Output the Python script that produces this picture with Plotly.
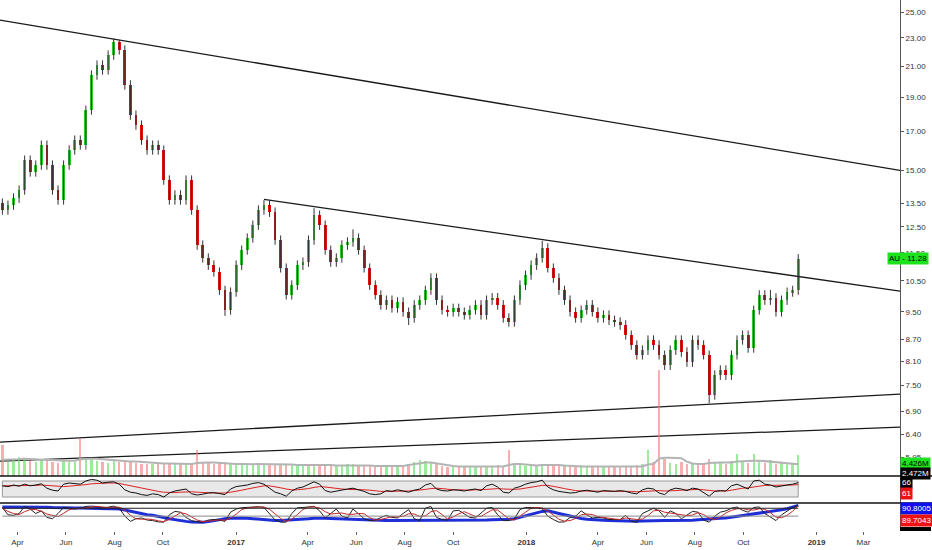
import math
import pandas as pd
import plotly.graph_objects as go

# ---------------- data (weekly bars) ----------------
bar_dates = pd.date_range('2016-03-13', periods=144, freq='7D')

open_ = [13.50,13.20,13.41,13.72,14.08,15.51,14.92,15.26,16.28,15.26,
         14.08,13.63,15.26,16.02,16.54,16.28,18.22,20.40,21.07,20.74,
         21.76,22.70,22.12,19.76,17.93,17.36,16.54,16.02,16.28,16.02,
         14.54,13.63,13.86,13.63,14.54,13.20,11.79,11.31,11.05,10.81,
         10.19,9.56,10.13,11.05,11.60,12.06,12.57,13.20,13.41,13.11,
         11.98,10.95,10.04,10.36,11.05,11.16,11.98,12.99,12.57,11.60,
         11.16,11.31,11.79,11.91,12.06,11.60,10.95,10.36,10.04,9.72,
         9.87,9.62,9.81,9.50,9.32,9.72,9.87,10.19,10.60,9.87,
         9.56,9.50,9.62,9.50,9.41,9.56,9.72,9.41,9.87,9.95,
         9.72,9.32,9.20,9.87,10.36,10.70,11.05,11.31,11.68,10.95,
         10.60,10.19,9.87,9.50,9.32,9.56,9.72,9.50,9.32,9.41,
         9.25,9.20,9.11,8.82,8.54,8.27,8.40,8.68,8.54,8.27,
         8.00,8.40,8.68,8.35,8.08,8.68,8.54,8.27,7.27,7.75,
         7.88,7.75,8.27,8.68,8.82,8.46,9.56,10.04,9.87,9.94,
         9.50,9.87,10.13,10.19]
close = [13.20,13.41,13.72,14.08,15.51,14.92,15.26,16.28,15.26,14.08,
         13.63,15.26,16.02,16.54,16.28,18.22,20.40,21.07,20.74,21.76,
         22.70,22.12,19.76,17.93,17.36,16.54,16.02,16.28,16.02,14.54,
         13.63,13.86,13.63,14.54,13.20,11.79,11.31,11.05,10.81,10.19,
         9.56,10.13,11.05,11.60,12.06,12.57,13.20,13.41,13.11,11.98,
         10.95,10.04,10.36,11.05,11.16,11.98,12.99,12.57,11.60,11.16,
         11.31,11.79,11.91,12.06,11.60,10.95,10.36,10.04,9.72,9.87,
         9.62,9.81,9.50,9.32,9.72,9.87,10.19,10.60,9.87,9.56,
         9.50,9.62,9.50,9.41,9.56,9.72,9.41,9.87,9.95,9.72,
         9.32,9.20,9.87,10.36,10.70,11.05,11.31,11.68,10.95,10.60,
         10.19,9.87,9.50,9.32,9.56,9.72,9.50,9.32,9.41,9.25,
         9.20,9.11,8.82,8.54,8.27,8.40,8.68,8.54,8.27,8.00,
         8.40,8.68,8.35,8.08,8.68,8.54,8.27,7.27,7.75,7.88,
         7.75,8.27,8.68,8.82,8.46,9.56,10.04,9.87,9.94,9.50,
         9.87,10.13,10.19,11.28]
high = [13.70,13.61,13.93,14.29,15.74,15.74,15.49,16.52,16.52,15.49,
        14.29,15.49,16.26,16.79,16.79,18.49,20.71,21.39,21.39,22.09,
        22.95,22.85,22.45,20.06,18.20,17.62,16.79,16.52,16.52,16.26,
        14.76,14.07,14.07,14.76,14.76,13.40,11.97,11.48,11.22,10.97,
        10.34,10.28,11.22,11.77,12.24,12.76,13.40,13.63,13.61,13.31,
        12.16,11.11,10.52,11.22,11.33,12.16,13.28,13.18,12.76,11.77,
        11.48,11.97,12.09,12.40,12.24,11.77,11.11,10.52,10.19,10.02,
        10.02,9.96,9.96,9.64,9.87,10.02,10.34,10.76,10.76,10.02,
        9.70,9.76,9.76,9.64,9.70,9.87,9.87,10.02,10.10,10.10,
        9.87,9.46,10.02,10.52,10.86,11.22,11.48,11.95,11.86,11.11,
        10.76,10.34,10.02,9.64,9.70,9.87,9.87,9.64,9.55,9.55,
        9.39,9.34,9.25,8.95,8.67,8.53,8.81,8.81,8.67,8.39,
        8.53,8.81,8.81,8.48,8.81,8.81,8.67,8.39,7.87,8.00,
        8.00,8.39,8.81,8.95,8.95,9.70,10.19,10.19,10.20,10.09,
        10.02,10.28,10.34,11.45]
low = [13.00,13.00,13.21,13.51,13.87,14.70,14.70,15.03,15.03,13.87,
       13.43,13.43,15.03,15.78,16.04,16.04,17.95,20.09,20.43,20.43,
       21.43,21.79,19.46,17.66,17.10,16.29,15.78,15.78,15.78,14.32,
       13.43,13.43,13.43,13.43,13.00,11.61,11.14,10.88,10.65,10.04,
       9.38,9.42,9.98,10.88,11.43,11.88,12.38,13.00,12.91,11.80,
       10.79,9.89,9.89,10.20,10.88,10.99,11.80,12.38,11.43,10.99,
       10.99,11.14,11.61,11.73,11.43,10.79,10.20,9.89,9.57,9.57,
       9.48,9.48,9.36,9.11,9.18,9.57,9.72,10.04,9.72,9.42,
       9.36,9.36,9.36,9.27,9.27,9.42,9.27,9.27,9.72,9.57,
       9.18,9.06,9.06,9.72,10.20,10.54,10.88,11.14,10.79,10.44,
       10.04,9.72,9.36,9.18,9.18,9.42,9.36,9.18,9.18,9.11,
       9.06,8.97,8.69,8.41,8.15,8.15,8.27,8.41,8.15,7.88,
       7.88,8.27,8.22,7.96,7.96,8.41,8.15,7.08,7.16,7.63,
       7.63,7.63,8.15,8.55,8.33,8.33,9.42,9.72,9.72,9.36,
       9.36,9.72,9.98,10.04]
volume = [6.5,3.0,3.5,4.0,3.8,3.2,3.0,3.6,3.4,3.0,
          2.8,3.2,3.0,2.9,8.0,3.4,3.6,3.2,3.0,2.8,
          3.3,3.0,3.4,3.2,2.8,2.6,2.5,2.4,2.6,2.8,
          2.7,2.6,2.5,2.4,2.6,5.5,3.0,2.8,2.6,2.7,
          2.9,2.5,2.4,2.6,2.5,2.3,2.4,2.6,2.3,2.5,
          2.2,2.6,2.4,2.2,2.3,2.5,2.4,2.6,2.2,2.0,
          2.1,2.3,2.6,2.5,2.2,2.1,2.0,2.2,2.1,2.0,
          2.3,2.1,2.0,2.6,3.0,3.4,3.2,2.8,2.4,2.0,
          1.9,2.1,2.0,1.8,1.9,2.0,2.1,1.9,2.0,2.2,
          2.1,5.5,2.4,2.2,2.1,2.0,2.3,2.5,2.4,2.6,
          2.2,2.1,2.0,1.9,2.2,2.0,1.9,2.0,1.8,2.0,
          1.9,2.1,2.0,1.9,2.2,2.4,5.5,3.0,22.0,3.5,
          2.8,2.6,3.0,2.6,2.4,2.5,2.8,3.6,3.0,2.8,
          2.6,3.2,4.5,3.0,2.8,4.5,3.2,2.8,3.4,2.6,
          2.8,2.5,2.7,4.426]
vol_ma = [3.4,3.4,3.5,3.5,3.6,3.6,3.5,3.4,3.4,3.3,
          3.3,3.2,3.2,3.2,3.5,3.6,3.6,3.6,3.5,3.3,
          3.2,3.1,3.1,3.0,3.0,2.9,2.8,2.7,2.7,2.6,
          2.6,2.6,2.6,2.5,2.5,2.7,2.8,2.8,2.8,2.7,
          2.6,2.6,2.5,2.5,2.5,2.5,2.4,2.4,2.4,2.4,
          2.4,2.4,2.4,2.3,2.3,2.3,2.4,2.4,2.4,2.3,
          2.2,2.2,2.3,2.3,2.3,2.2,2.2,2.1,2.1,2.1,
          2.1,2.1,2.1,2.3,2.5,2.7,2.8,2.8,2.6,2.4,
          2.2,2.1,2.0,2.0,2.0,1.9,1.9,2.0,2.0,2.0,
          2.0,2.3,2.5,2.5,2.4,2.2,2.2,2.3,2.3,2.4,
          2.3,2.2,2.1,2.0,2.0,2.0,2.0,1.9,1.9,1.9,
          1.9,1.9,2.0,2.0,2.0,2.0,2.4,2.5,3.6,3.8,
          3.8,3.8,3.7,3.0,2.6,2.5,2.5,2.7,2.8,2.8,
          2.8,2.8,3.0,3.1,3.1,3.2,3.2,3.1,3.0,2.8,
          2.7,2.6,2.5,2.472]
rsi = [58,56,60,57,62,58,60,63,52,47,
       45,62,65,63,62,70,74,72,65,67,
       68,62,48,42,40,36,34,38,36,30,
       40,45,48,50,38,35,37,40,41,38,
       36,50,56,58,60,64,66,62,52,42,
       38,32,45,52,55,62,68,62,46,42,
       45,48,50,52,48,44,38,36,38,46,
       44,48,45,42,47,50,60,64,50,46,
       45,48,47,45,48,50,46,58,62,55,
       42,40,52,56,62,66,68,72,55,48,
       44,42,40,41,45,47,44,42,46,45,
       44,46,44,40,38,48,52,50,40,36,
       48,52,50,46,52,50,42,32,44,46,
       45,58,62,55,50,70,72,62,60,55,
       58,60,62,66]
rsi_ma = [58,58,58,58,59,59,59,60,59,57,
          56,56,57,58,59,61,63,64,65,65,
          65,64,61,58,55,52,49,46,44,42,
          41,41,42,43,43,42,41,40,40,40,
          40,42,44,47,50,53,56,58,58,56,
          53,50,48,48,49,51,54,56,55,53,
          51,50,49,49,49,48,47,45,44,44,
          44,45,45,45,46,47,49,51,52,51,
          49,48,48,47,47,48,48,49,50,51,
          50,49,49,50,52,55,57,59,59,57,
          54,51,48,46,45,45,45,44,44,44,
          45,45,45,44,43,44,45,46,46,45,
          45,46,47,48,48,49,48,46,45,45,
          45,47,50,52,53,55,58,59,59,59,
          59,60,60,61]
stoch_k = [83,55,53,60,87,77,60,70,45,40,
           60,83,80,77,80,87,88,87,80,83,
           88,80,50,30,40,43,35,33,28,27,
           55,68,65,45,33,28,27,35,37,35,
           30,65,77,82,83,85,86,83,60,35,
           27,27,60,82,83,86,87,70,43,60,
           77,50,43,77,60,40,33,33,45,53,
           45,43,60,75,40,33,80,87,45,37,
           35,70,72,60,45,43,60,80,83,55,
           33,33,40,75,83,83,82,78,50,37,
           27,28,45,50,70,55,43,45,43,37,
           38,37,53,30,27,60,70,80,70,45,
           70,60,40,55,68,65,35,27,50,65,
           70,80,85,72,65,83,85,60,45,33,
           55,70,83,91]
stoch_d = [80,68,60,56,67,75,75,69,58,52,
           48,61,74,80,79,81,85,87,85,83,
           84,84,73,53,40,38,39,37,32,29,
           37,50,63,59,48,35,29,30,33,36,
           34,43,57,75,81,83,85,85,76,59,
           41,30,38,56,75,84,85,81,67,58,
           60,62,57,57,60,59,44,35,37,44,
           48,47,49,59,58,49,51,67,71,56,
           39,47,59,67,59,49,49,61,74,73,
           57,40,35,49,66,80,83,81,70,55,
           38,31,33,41,55,58,56,48,44,42,
           39,37,43,40,37,39,52,70,73,65,
           62,58,57,52,54,63,56,42,37,47,
           62,72,78,79,74,73,78,76,63,46,
           44,53,69,89.7043]
stoch_slow = [85,85,86,86,86,85,85,85,84,83,
              82,82,81,81,81,80,80,79,79,78,
              78,77,73,68,63,58,55,53,50,45,
              40,36,33,30,28,27,27,29,33,37,
              40,42,43,43,42,40,38,36,34,33,
              33,34,36,37,39,40,42,43,42,41,
              40,39,38,37,37,37,36,35,34,33,
              33,33,33,33,33,34,35,35,35,34,
              34,34,34,34,34,35,35,35,36,36,
              36,38,40,45,50,56,62,68,70,66,
              60,55,50,45,41,38,36,35,34,33,
              32,31,30,30,30,31,32,33,33,33,
              33,33,33,33,34,36,38,40,41,42,
              43,46,50,52,55,58,60,63,68,71,
              74,78,84,90.8005]

trend_dates = [['2016-03-10', '2019-04-16'], ['2017-02-05', '2019-04-16'],
               ['2016-03-10', '2019-04-16'], ['2016-03-10', '2019-04-16']]
trend_prices = [[24.36, 15.00], [13.66, 10.16], [6.245, 7.29], [5.874, 6.554]]

price_ticks = [25.00, 23.00, 21.00, 19.00, 17.00, 15.00, 13.50, 12.50, 11.50,
               10.50, 9.50, 8.70, 8.10, 7.50, 6.90, 6.40, 5.95]
date_ticks = ['2016-04-01', '2016-06-01', '2016-08-01', '2016-10-01', '2017-01-01',
              '2017-04-01', '2017-06-01', '2017-08-01', '2017-10-01', '2018-01-01',
              '2018-04-01', '2018-06-01', '2018-08-01', '2018-10-01', '2019-01-01',
              '2019-03-01']
date_labels = ['Apr', 'Jun', 'Aug', 'Oct', '<b>2017</b>', 'Apr', 'Jun', 'Aug', 'Oct',
               '<b>2018</b>', 'Apr', 'Jun', 'Aug', 'Oct', '<b>2019</b>', 'Mar']
ticker = 'AU'

# ---------------- figure ----------------
FONT = 'Liberation Sans, Arial, sans-serif'
GREEN = '#2ecc2e'
RED = '#dd1111'
up = [c >= o for o, c in zip(open_, close)]

fig = go.Figure()

# trend lines
for d, p in zip(trend_dates, trend_prices):
    fig.add_trace(go.Scatter(x=d, y=p, mode='lines', yaxis='y',
                             line=dict(color='#1a1a1a', width=1.3), hoverinfo='skip'))

# wicks
wx, wy = [], []
for d, h, l in zip(bar_dates, high, low):
    wx += [d, d, None]
    wy += [l, h, None]
fig.add_trace(go.Scatter(x=wx, y=wy, mode='lines', yaxis='y',
                         line=dict(color='#333333', width=1), hoverinfo='skip'))
# bodies
fig.add_trace(go.Bar(x=bar_dates, base=open_, y=[c - o for o, c in zip(open_, close)],
                     yaxis='y', width=3.5 * 86400000,
                     marker=dict(color=[GREEN if u else RED for u in up], line=dict(width=0))))

# volume
fig.add_trace(go.Bar(x=bar_dates, y=volume, yaxis='y4', width=3 * 86400000,
                     marker=dict(color=['rgba(90,220,90,0.6)' if u else 'rgba(240,120,120,0.6)' for u in up],
                                 line=dict(width=0))))
fig.add_trace(go.Scatter(x=bar_dates, y=vol_ma, yaxis='y4', mode='lines',
                         line=dict(color='#b4b4b4', width=2), hoverinfo='skip'))

# RSI
fig.add_trace(go.Scatter(x=bar_dates, y=rsi_ma, yaxis='y2', mode='lines',
                         line=dict(color='#dd2222', width=1)))
fig.add_trace(go.Scatter(x=bar_dates, y=rsi, yaxis='y2', mode='lines',
                         line=dict(color='#111111', width=1)))

# stochastic
fig.add_trace(go.Scatter(x=bar_dates, y=stoch_slow, yaxis='y3', mode='lines',
                         line=dict(color='#1f2fd8', width=3)))
fig.add_trace(go.Scatter(x=bar_dates, y=stoch_k, yaxis='y3', mode='lines',
                         line=dict(color='#222222', width=1)))
fig.add_trace(go.Scatter(x=bar_dates, y=stoch_d, yaxis='y3', mode='lines',
                         line=dict(color='#c62828', width=1)))

H = 531.0
def py(p):
    return (H - p) / H

shapes = [
    dict(type='rect', xref='x', yref='y2', x0=bar_dates[0], x1=bar_dates[-1], y0=30, y1=70,
         fillcolor='#e8e8e8', line=dict(color='#9a9a9a', width=1), layer='below'),
    dict(type='line', xref='x', yref='y3', x0=bar_dates[0], x1=bar_dates[-1], y0=80, y1=80,
         line=dict(color='#222222', width=1)),
    dict(type='line', xref='x', yref='y3', x0=bar_dates[0], x1=bar_dates[-1], y0=50, y1=50,
         line=dict(color='#888888', width=1)),
    dict(type='line', xref='paper', yref='paper', x0=0, x1=932 / 900, y0=py(476), y1=py(476),
         line=dict(color='#111111', width=1.5)),
    dict(type='line', xref='paper', yref='paper', x0=0, x1=932 / 900, y0=py(503), y1=py(503),
         line=dict(color='#111111', width=1.5)),
    dict(type='rect', xref='paper', yref='paper', x0=1.0, x1=931 / 900, y0=py(531), y1=py(527),
         fillcolor='#000000', line=dict(width=0)),
]

def badge(text, y, bg, fg, yref='paper', x=1.0):
    return dict(text=text, xref='paper', yref=yref, x=x, y=y, xanchor='left', yanchor='middle',
                showarrow=False, bgcolor=bg, borderpad=1,
                font=dict(family=FONT, size=8, color=fg))

annotations = [
    badge(f'{ticker} - {close[-1]:.2f}', math.log10(close[-1]), '#1ee21e', '#000000', yref='y', x=887 / 900),
    badge(f'{volume[-1]:.3f}M', py(463), '#1ee21e', '#000000'),
    badge(f'{vol_ma[-1]:.3f}M', py(473.5), '#000000', '#ffffff'),
    badge(f'{rsi[-1]}', py(482), '#000000', '#ffffff'),
    badge(f'{rsi_ma[-1]}', py(494), '#ee1111', '#ffffff'),
    badge(f'{stoch_slow[-1]:.4f}', py(508), '#1010ee', '#ffffff'),
    badge(f'{stoch_d[-1]:.4f}', py(520), '#ee1111', '#ffffff'),
]

ylo = math.log10(5.597)
yhi = math.log10(25.99)

fig.update_layout(
    width=932, height=550,
    margin=dict(l=0, r=32, t=0, b=19, autoexpand=False),
    paper_bgcolor='white', plot_bgcolor='rgba(0,0,0,0)',
    showlegend=False, bargap=0,
    font=dict(family=FONT, size=8, color='#333333'),
    xaxis=dict(type='date', range=['2016-03-10', '2019-04-16'], domain=[0, 1], anchor='y3',
               tickvals=date_ticks, ticktext=date_labels, ticks='outside', ticklen=3,
               tickcolor='#666666', showgrid=False, zeroline=False, showline=False,
               tickfont=dict(family=FONT, size=8, color='#333333')),
    yaxis=dict(type='log', domain=[py(476), 1], range=[ylo, yhi], side='right', anchor='x',
               tickvals=price_ticks, ticktext=[f'{t:.2f}' for t in price_ticks],
               ticks='outside', ticklen=3, tickcolor='#555555', showline=True,
               linecolor='#555555', linewidth=1, showgrid=False, zeroline=False,
               tickfont=dict(family=FONT, size=8, color='#333333')),
    yaxis2=dict(domain=[py(503), py(476)], range=[15, 82.5], side='right', anchor='x',
                showticklabels=False, ticks='', showline=True, linecolor='#555555',
                showgrid=False, zeroline=False),
    yaxis3=dict(domain=[0, py(503)], range=[-6.7, 100], side='right', anchor='x',
                showticklabels=False, ticks='', showline=True, linecolor='#555555',
                showgrid=False, zeroline=False),
    yaxis4=dict(domain=[py(476), py(355)], range=[0, 25.2], side='right', anchor='x',
                showticklabels=False, ticks='', showline=False, showgrid=False, zeroline=False),
    shapes=shapes, annotations=annotations,
)

fig.write_html('out.html', config={'displayModeBar': False},
               post_script="document.body.style.margin='0';document.body.style.overflow='hidden';")
